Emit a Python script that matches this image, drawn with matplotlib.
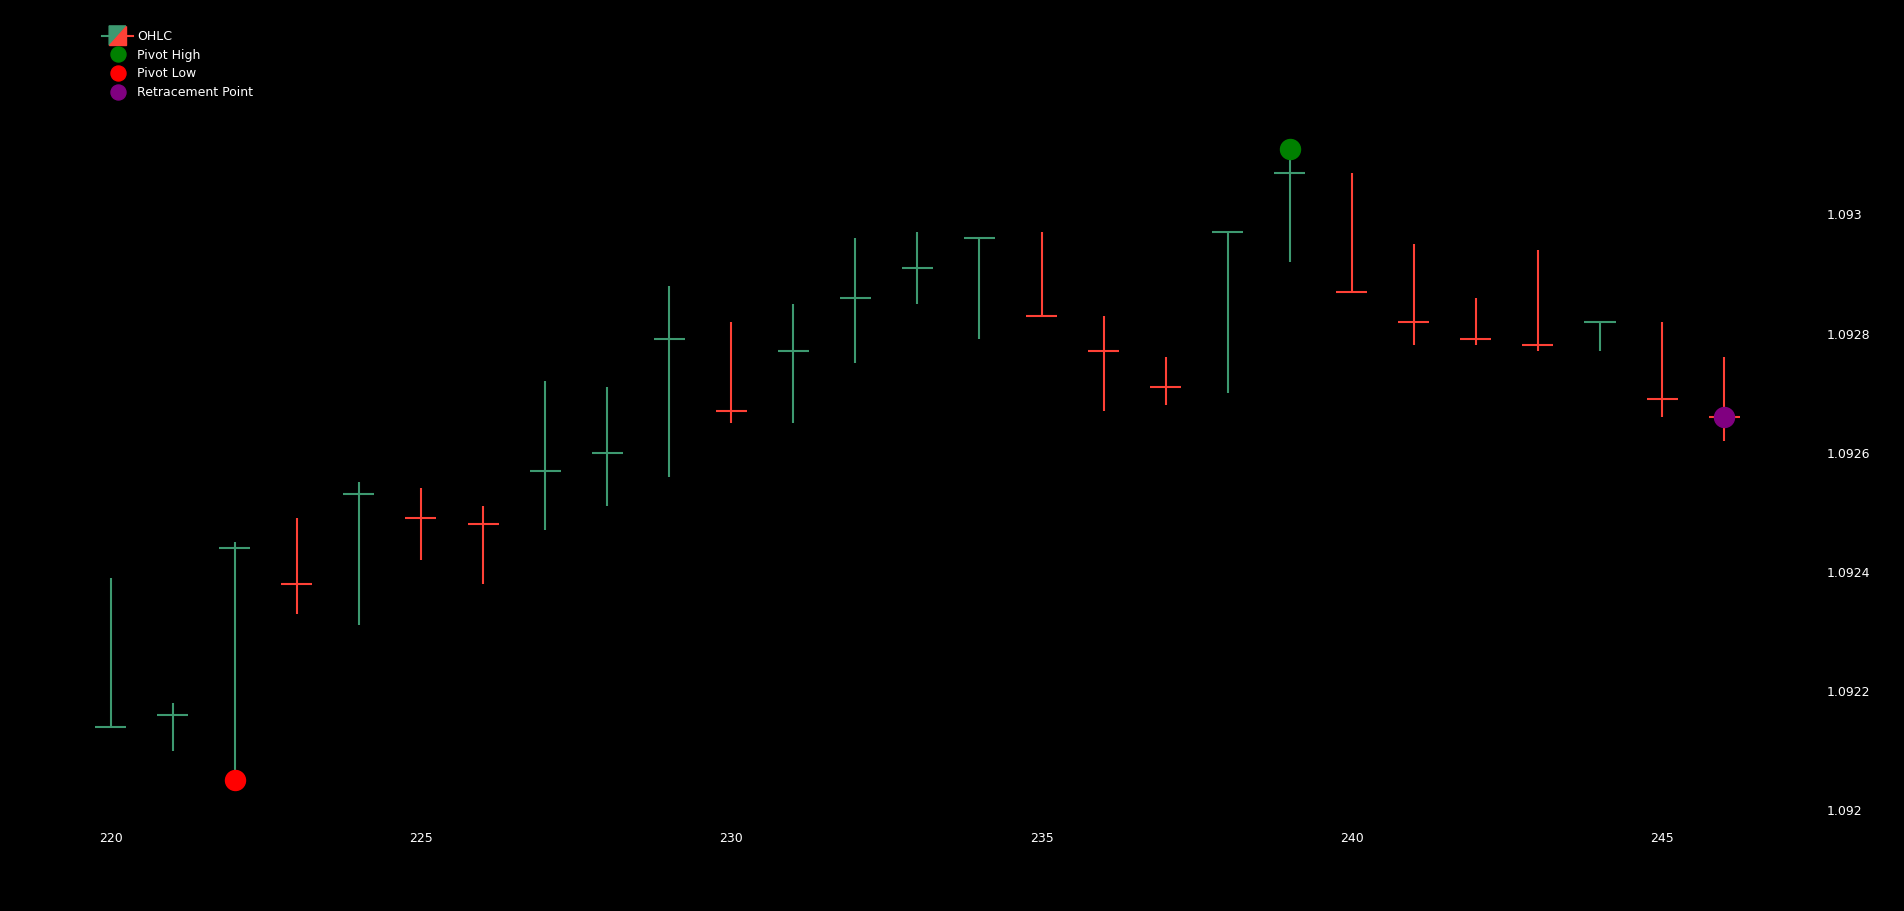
import numpy as np
import matplotlib
matplotlib.use('Agg')
import matplotlib.pyplot as plt
from matplotlib.lines import Line2D
from matplotlib.patches import Polygon
from matplotlib.legend_handler import HandlerBase

plt.rcParams['font.family'] = ['DejaVu Sans']

########## data (open == close on every bar)
bars = list(range(220, 247))
closes = [1.09214, 1.09216, 1.09244, 1.09238, 1.09253, 1.09249, 1.09248, 1.09257, 1.09260,
          1.09279, 1.09267, 1.09277, 1.09286, 1.09291, 1.09296, 1.09283, 1.09277, 1.09271,
          1.09297, 1.09307, 1.09287, 1.09282, 1.09279, 1.09278, 1.09282, 1.09269, 1.09266]
highs = [1.09239, 1.09218, 1.09245, 1.09249, 1.09255, 1.09254, 1.09251, 1.09272, 1.09271,
         1.09288, 1.09282, 1.09285, 1.09296, 1.09297, 1.09296, 1.09297, 1.09283, 1.09276,
         1.09297, 1.09311, 1.09307, 1.09295, 1.09286, 1.09294, 1.09282, 1.09282, 1.09276]
lows = [1.09214, 1.09210, 1.09205, 1.09233, 1.09231, 1.09242, 1.09238, 1.09247, 1.09251,
        1.09256, 1.09265, 1.09265, 1.09275, 1.09285, 1.09279, 1.09283, 1.09267, 1.09268,
        1.09270, 1.09292, 1.09287, 1.09278, 1.09278, 1.09277, 1.09277, 1.09266, 1.09262]
pivot_high = (239, 1.09311)
pivot_low = (222, 1.09205)
retrace = (246, 1.09266)
xtick_vals = [220, 225, 230, 235, 240, 245]
ytick_vals = [1.092, 1.0922, 1.0924, 1.0926, 1.0928, 1.093]
ytick_labels = ['1.092', '1.0922', '1.0924', '1.0926', '1.0928', '1.093']

INC = '#3D9970'
DEC = '#FF4136'
W, H = 1904, 911


class OHLCHandler(HandlerBase):
    # split green/red box with side ticks, like the plotly legend icon
    def create_artists(self, legend, orig_handle, xdescent, ydescent, width, height, fontsize, trans):
        x0, x1 = width * 0.23, width * 0.77
        y0, y1 = height * 0.5 - 7, height * 0.5 + 7
        ym = height * 0.5
        up = Polygon([[x0, y1], [x1, y1], [x0, y0]], closed=True, facecolor=INC, edgecolor=INC, transform=trans)
        dn = Polygon([[x1, y1], [x1, y0], [x0, y0]], closed=True, facecolor=DEC, edgecolor=DEC, transform=trans)
        l1 = Line2D([0, x0], [ym, ym], color=INC, lw=1.5, transform=trans)
        l2 = Line2D([x1, width], [ym, ym], color=DEC, lw=1.5, transform=trans)
        return [l1, l2, up, dn]


######################## PLOT
fig = plt.figure(figsize=(W / 100, H / 100), dpi=100)
fig.patch.set_facecolor('black')
ax = fig.add_axes([80 / W, 80 / H, 1744 / W, 731 / H])
ax.set_facecolor('black')

x = np.array(bars)
c = np.array(closes)
prev = np.concatenate([[c[0] - 1], c[:-1]])
up = c >= prev
cols = [INC if u else DEC for u in up]
hw = 0.25
ax.vlines(x, lows, highs, colors=cols, lw=1.5, zorder=2)
ax.hlines(c, x - hw, x, colors=cols, lw=1.5, zorder=2)   # open tick
ax.hlines(c, x, x + hw, colors=cols, lw=1.5, zorder=2)   # close tick

ax.plot(*pivot_high, 'o', color='green', markersize=14.4, zorder=3, label='Pivot High')
ax.plot(*pivot_low, 'o', color='red', markersize=14.4, zorder=3, label='Pivot Low')
ax.plot(*retrace, 'o', color='purple', markersize=14.4, zorder=3, label='Retracement Point')

ax.set_xlim(219.505, 247.61)
ax.set_ylim(1.091965, 1.093192)
ax.set_xticks(xtick_vals)
ax.set_xticklabels([str(v) for v in xtick_vals])
ax.set_yticks(ytick_vals)
ax.set_yticklabels(ytick_labels)
ax.yaxis.tick_right()
ax.tick_params(axis='both', length=0, colors='white', labelsize=9)
ax.tick_params(axis='x', pad=0.5)
ax.tick_params(axis='y', pad=2)
for s in ax.spines.values():
    s.set_visible(False)

handles = [object(),
           Line2D([], [], marker='o', ls='none', color='green', markersize=10.8),
           Line2D([], [], marker='o', ls='none', color='red', markersize=10.8),
           Line2D([], [], marker='o', ls='none', color='purple', markersize=10.8)]
labels = ['OHLC', 'Pivot High', 'Pivot Low', 'Retracement Point']
leg = fig.legend(handles, labels, handler_map={object: OHLCHandler()},
                 loc='upper left', bbox_to_anchor=(102 / W, 1 - 30 / H),
                 frameon=False, fontsize=9, labelcolor='white',
                 handlelength=2.48, handletextpad=0.32, labelspacing=0.45,
                 borderpad=0, borderaxespad=0)

fig.savefig('out.png', dpi=100, facecolor='black')
